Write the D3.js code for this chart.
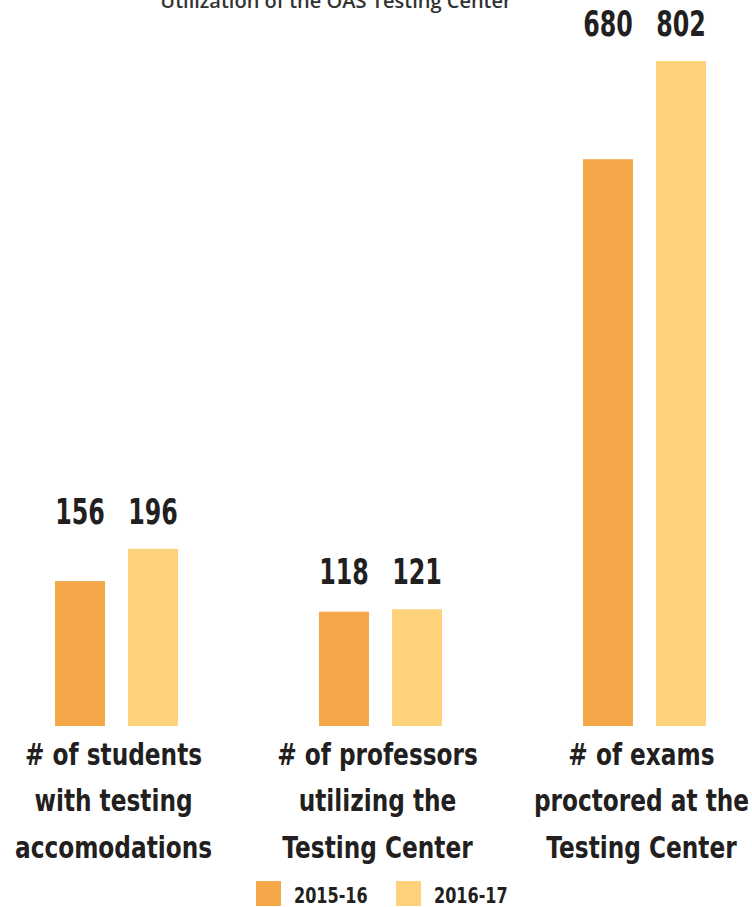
<!DOCTYPE html>
<html><head><meta charset="utf-8">
<script src="https://cdn.jsdelivr.net/npm/d3@7"></script>
<style>
html,body{margin:0;padding:0;background:#fff;}
svg{display:block;}
</style></head>
<body>
<svg id="chart" width="752" height="907"></svg>
<script>
const title = "Utilization of the OAS Testing Center";
const categories = [
  ["# of students", "with testing", "accomodations"],
  ["# of professors", "utilizing the", "Testing Center"],
  ["# of exams", "proctored at the", "Testing Center"]
];
const series = ["2015-16", "2016-17"];
const values2015 = [156, 118, 680];
const values2016 = [196, 121, 802];
const colors = ["#F5A849", "#FDD27A"];

const svg = d3.select("#chart");
const font = "'DejaVu Sans', sans-serif";
const ink = "#231F20";

const catKeys = categories.map((c, i) => i);
const x0 = d3.scaleBand().domain(catKeys).range([55, 706]).paddingInner(0.534).paddingOuter(0);
const x1 = d3.scaleBand().domain(series).range([0, x0.bandwidth()]).paddingInner(0.315).paddingOuter(0);
const y = d3.scaleLinear().domain([-24, 802]).range([726, 61]);

const data = catKeys.map(i => ({i, vals: [values2015[i], values2016[i]]}));

svg.append("text").attr("x", 336).attr("y", 8).attr("text-anchor", "middle")
  .attr("font-family", "'Open Sans', sans-serif").attr("font-weight", 600)
  .attr("font-size", 20).attr("fill", "#333")
  .text(title);

const g = svg.selectAll("g.grp").data(data).join("g").attr("class", "grp")
  .attr("transform", d => `translate(${x0(d.i)},0)`);

g.selectAll("rect").data(d => d.vals.map((v, k) => ({v, k}))).join("rect")
  .attr("x", d => x1(series[d.k])).attr("width", x1.bandwidth())
  .attr("y", d => y(d.v)).attr("height", d => y(-24) - y(d.v))
  .attr("fill", d => colors[d.k]);

g.selectAll("text.val").data(d => d.vals.map((v, k) => ({v, k, top: y(d3.max(d.vals))}))).join("text")
  .attr("class", "val")
  .attr("transform", d => `translate(${x1(series[d.k]) + x1.bandwidth() / 2},${d.top - 25}) scale(0.68,1)`)
  .attr("text-anchor", "middle").attr("font-family", font).attr("font-weight", "bold")
  .attr("font-size", 35).attr("fill", ink).text(d => d.v);

g.each(function(d) {
  const t = d3.select(this).append("text").attr("text-anchor", "middle")
    .attr("transform", `translate(${x0.bandwidth() / 2 - 3},765) scale(0.75,1)`)
    .attr("font-family", font).attr("font-weight", "bold").attr("font-size", 31).attr("fill", ink);
  categories[d.i].forEach((line, j) => {
    t.append("tspan").attr("x", 0).attr("y", j * 46.5).text(line);
  });
});

const leg = svg.append("g");
series.forEach((s, k) => {
  const lx = 256 + k * 140;
  leg.append("rect").attr("x", lx).attr("y", 881).attr("width", 25).attr("height", 25).attr("fill", colors[k]);
  leg.append("text").attr("transform", `translate(${lx + 38},903) scale(0.73,1)`)
    .attr("font-family", font).attr("font-weight", "bold")
    .attr("font-size", 22).attr("fill", ink).text(s);
});
</script>
</body></html>
